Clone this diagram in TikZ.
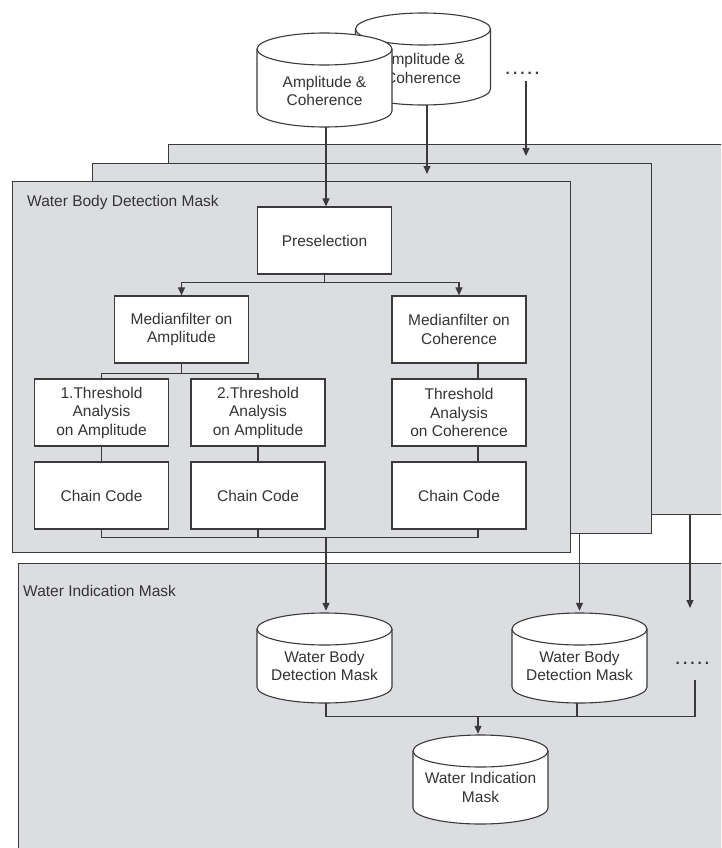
\documentclass[tikz,border=0pt]{standalone}
\usepackage{fontspec}
\setmainfont{Liberation Sans}
\usetikzlibrary{arrows.meta,calc}
\definecolor{panel}{RGB}{220,221,224}
\definecolor{ink}{RGB}{58,58,58}
\definecolor{txt}{RGB}{52,52,52}
\newcommand\mainfnt{\fontsize{15.5}{18.5}\selectfont}
\newcommand\fivedots{.\kern3pt.\kern3pt.\kern3pt.\kern3pt.}
\tikzset{
  frame/.style={draw=ink, fill=panel, line width=1.3pt, inner sep=0pt, anchor=north west},
  stepbox/.style={draw=ink, fill=white, line width=1.2pt, minimum width=134pt, minimum height=67pt,
    inner sep=2pt, align=center, text=txt, font=\mainfnt},
  ln/.style={draw=ink, line width=1.1pt},
  arr/.style={ln, -{Triangle[length=8pt,width=7pt]}},
  cylbody/.style={draw=ink, fill=white, line width=1.1pt},
  cylline/.style={draw=ink, line width=1.1pt},
  cyltext/.style={align=center, text=txt, font=\mainfnt, inner sep=0pt},
  cylframe/.style={inner sep=0pt, minimum width=135pt, draw=none},
  lbl/.style={anchor=west, text=txt, font=\mainfnt, inner sep=0pt},
  dotst/.style={text=ink, font=\mainfnt\bfseries, inner sep=0pt},
}
% name, cx, top y, bottom y, text, text offset
\newcommand\cylnode[6]{%
  \path[cylbody] ({#2-67.5},{#3+16}) -- ({#2-67.5},{#4-16})
     arc[start angle=180,end angle=0,x radius=67.5,y radius=16]
     -- ({#2+67.5},{#3+16})
     arc[start angle=0,end angle=-180,x radius=67.5,y radius=16] -- cycle;
  \draw[cylline] ({#2-67.5},{#3+16}) arc[start angle=180,end angle=0,x radius=67.5,y radius=16];
  \node[cylframe, minimum height={#4-#3}] (#1) at (#2,{(#3+#4)/2}) {};
  \node[cyltext] (#1t) at (#2,{(#3+#4)/2+#6}) {#5};
}
\begin{document}
\begin{tikzpicture}[x=1pt,y=-1pt]
\useasboundingbox (0,0) rectangle (721,848);
\clip (0,0) rectangle (721,848);
\fill[white] (0,0) rectangle (721,848);

% stacked frames
\node[frame, minimum width=560pt, minimum height=370pt] (rect3) at (168,144) {};
\node[frame, minimum width=559pt, minimum height=370pt] (rect2) at (92,163) {};
\node[frame, minimum width=558pt, minimum height=371pt] (rect1) at (12,181) {};
\node[frame, minimum width=720pt, minimum height=300pt] (wimframe) at (18,563) {};
\node[lbl] (lab1) at (27,202) {Water Body Detection Mask};
\node[lbl] (lab2) at (23,591) {Water Indication Mask};

% top inputs
\cylnode{cylB}{423}{13}{105}{Amplitude \&\\Coherence}{9.5}
\cylnode{cylA}{324.5}{33}{127}{Amplitude \&\\Coherence}{11}
\node[dotst] (dots1) at (522.5,73) {\fivedots};

% processing boxes
\node[stepbox] (pre) at (324.5,240.5) {Preselection};
\node[stepbox] (medA) at (181.5,329.5) {Medianfilter on\\Amplitude};
\node[stepbox] (medC) at (459,329.5) {Medianfilter on\\Coherence};
\node[stepbox] (th1) at (101.5,412.5) {1.Threshold\\Analysis\\on Amplitude};
\node[stepbox] (th2) at (258,412.5) {2.Threshold\\Analysis\\on Amplitude};
\node[stepbox] (thC) at (459,412.5) {Threshold\\Analysis\\on Coherence};
\node[stepbox] (cc1) at (101.5,495.5) {Chain Code};
\node[stepbox] (cc2) at (258,495.5) {Chain Code};
\node[stepbox] (cc3) at (459,495.5) {Chain Code};

% top arrows
\draw[arr] ([xshift=1.5pt]cylA.south) -- ([xshift=1.5pt]pre.north);
\coordinate (tipB) at (427,174);
\draw[arr] (tipB |- cylB.south) -- (tipB);
\coordinate (tipD) at (526,156);
\draw[arr] ([yshift=-7pt]tipD |- dots1.south) -- (tipD);

% inner connectors
\draw[arr] (pre.south) -- ++(0,8) -| (medA.north);
\draw[arr] (pre.south) -- ++(0,8) -| (medC.north);
\draw[ln] (medA.south) -- ++(0,10) -| (th1.north);
\draw[ln] (medA.south) -- ++(0,10) -| (th2.north);
\draw[ln] ([xshift=19pt]medC.south) -- ([xshift=19pt]thC.north);
\draw[ln] (th1.south) -- (cc1.north);
\draw[ln] (th2.south) -- (cc2.north);
\draw[ln] ([xshift=19pt]thC.south) -- ([xshift=19pt]cc3.north);
\draw[ln] (cc1.south) -- ++(0,8) -| ([xshift=19pt]cc3.south);
\draw[ln] (cc2.south) -- ++(0,8);

% outputs
\cylnode{wbdm1}{324.5}{613}{703}{Water Body\\Detection Mask}{8}
\cylnode{wbdm2}{579.5}{613}{703}{Water Body\\Detection Mask}{8}
\cylnode{wim}{480.5}{735}{824}{Water Indication\\Mask}{8}
\node[dotst] (dots2) at (692.5,663) {\fivedots};

\draw[arr, shorten >=2pt] (wbdm1.north |- cc2.south) ++(1.5,8) -- ([xshift=1.5pt]wbdm1.north);
\draw[arr, shorten >=2pt] (wbdm2.north |- rect2.south) -- (wbdm2.north);
\coordinate (tipR) at (690,608);
\draw[arr] (tipR |- rect3.south) -- (tipR);
\coordinate (dotsline) at (695,680);
\draw[ln] ([xshift=1.5pt]wbdm1.south) -- ++(0,13) -| (dotsline);
\draw[ln] ([xshift=-2.5pt]wbdm2.south) -- ++(0,13);
\draw[arr, shorten >=1pt] (wim.north |- wbdm1.south) ++(-2.5,13) -- ([xshift=-2.5pt]wim.north);
\end{tikzpicture}
\end{document}
